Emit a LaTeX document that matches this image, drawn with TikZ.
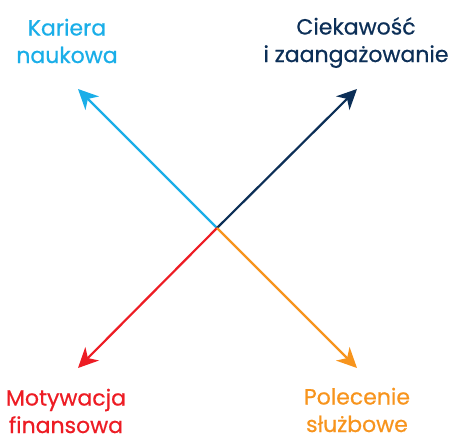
\documentclass[tikz,border=0pt]{standalone}
\usepackage{fontspec}
\setmainfont{Poppins}
\newfontfamily\lblfont{Poppins}[FakeBold=0.6]
\usetikzlibrary{arrows.meta}
\definecolor{cblue}{HTML}{1AAEE8}
\definecolor{cnavy}{HTML}{0C2F57}
\definecolor{cred}{HTML}{ED1C24}
\definecolor{corange}{HTML}{F7941D}
\begin{document}
\begin{tikzpicture}[x=1pt,y=-1pt,
  ray/.style={line width=2.2pt, -{Stealth[length=20pt,width=19pt,inset=6pt]}},
  lbl/.style={align=center, inner sep=0pt, anchor=base,
    font=\lblfont\fontsize{22}{27.5}\selectfont}]
  \useasboundingbox (0,0) rectangle (452,437);
  % hub and arrow tips
  \coordinate (o) at (217,228);
  \coordinate (tl) at (78,89);
  \coordinate (tr) at (357,89);
  \coordinate (bl) at (78,368);
  \coordinate (br) at (357,368);
  \draw[ray, cblue] (o) -- (tl);
  \draw[ray, cnavy] (o) -- (tr);
  \draw[ray, cred] (o) -- (bl);
  \draw[ray, corange] (o) -- (br);
  % labels (anchored at the baseline of their last line)
  \node[lbl, text=cblue] (kar) at (67,63) {Kariera\\naukowa};
  \node[lbl, text=cnavy] (cie) at (356,62) {Ciekawość\\i zaangażowanie};
  \node[lbl, text=cred, text depth=0pt] (mot) at (66,433) {Motywacja\\finansowa};
  \node[lbl, text=corange, text depth=0pt] (pol) at (357,432) {Polecenie\\służbowe};
\end{tikzpicture}
\end{document}
